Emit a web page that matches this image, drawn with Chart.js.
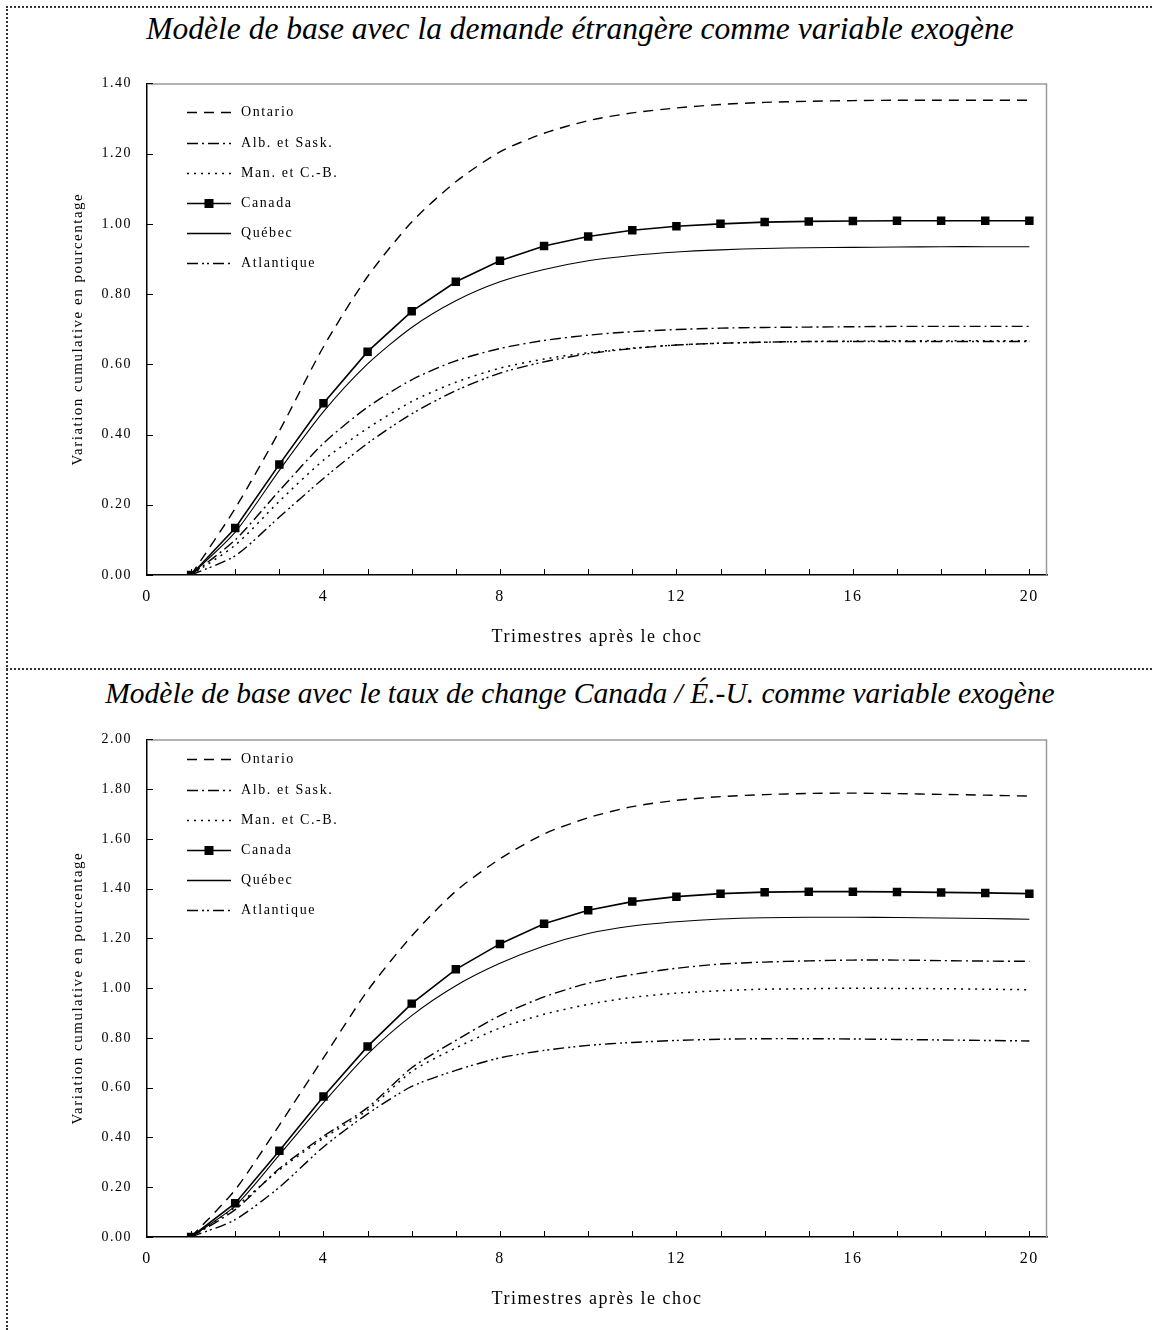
<!DOCTYPE html>
<html lang="fr">
<head>
<meta charset="utf-8">
<script src="https://cdn.jsdelivr.net/npm/chart.js@4.4.1/dist/chart.umd.min.js"></script>
<style>
  html, body { margin: 0; padding: 0; background: #fff; }
  #page { position: relative; width: 1152px; height: 1330px; overflow: hidden; }
  .frame-top { position: absolute; left: 6px; top: 6px; right: 0; border-top: 2px dotted #333; }
  .frame-left { position: absolute; left: 6px; top: 6px; bottom: 0; border-left: 2px dotted #333; }
  .frame-mid { position: absolute; left: 6px; top: 668px; right: 0; border-top: 2px dotted #333; }
  .title {
    position: absolute; left: 8px; right: 0; text-align: center;
    font-family: "Liberation Serif", "Times New Roman", serif;
    font-style: italic; color: #000; white-space: nowrap;
  }
  .box { position: absolute; left: 0; width: 1152px; }
</style>
</head>
<body>
<div id="page">
  <div class="frame-top"></div>
  <div class="frame-left"></div>
  <div class="frame-mid"></div>
  <div class="title" style="top: 11px; font-size: 31.5px;">Modèle de base avec la demande étrangère comme variable exogène</div>
  <div class="box" style="top: 60px; height: 600px;"><canvas id="chartTop"></canvas></div>
  <div class="title" style="top: 677px; font-size: 29.5px;">Modèle de base avec le taux de change Canada / É.-U. comme variable exogène</div>
  <div class="box" style="top: 716px; height: 606px;"><canvas id="chartBottom"></canvas></div>
</div>
<script>
  const quarters = [1, 2, 3, 4, 5, 6, 7, 8, 9, 10, 11, 12, 13, 14, 15, 16, 17, 18, 19, 20];
  const seriesNames = ["Ontario", "Alb. et Sask.", "Man. et C.-B.", "Canada", "Québec", "Atlantique"];

  // Modèle avec la demande étrangère
  const ontarioTop = [0, 0.19, 0.41, 0.65, 0.85, 1.005, 1.12, 1.205, 1.258, 1.294, 1.316, 1.330, 1.340, 1.346, 1.349, 1.351, 1.352, 1.352, 1.352, 1.352];
  const albSaskTop = [0, 0.10, 0.24, 0.375, 0.478, 0.556, 0.61, 0.645, 0.668, 0.683, 0.693, 0.699, 0.703, 0.705, 0.706, 0.707, 0.708, 0.708, 0.708, 0.708];
  const manCBTop = [0, 0.085, 0.21, 0.327, 0.418, 0.494, 0.549, 0.589, 0.615, 0.633, 0.646, 0.655, 0.660, 0.663, 0.665, 0.666, 0.667, 0.667, 0.667, 0.667];
  const canadaTop = [0, 0.134, 0.315, 0.489, 0.636, 0.751, 0.835, 0.895, 0.937, 0.964, 0.982, 0.993, 1.000, 1.005, 1.007, 1.008, 1.009, 1.009, 1.009, 1.009];
  const quebecTop = [0, 0.122, 0.298, 0.465, 0.601, 0.705, 0.781, 0.835, 0.870, 0.895, 0.910, 0.920, 0.926, 0.930, 0.932, 0.933, 0.934, 0.935, 0.935, 0.935];
  const atlantiqueTop = [0, 0.055, 0.165, 0.275, 0.375, 0.459, 0.525, 0.575, 0.607, 0.630, 0.645, 0.655, 0.660, 0.663, 0.665, 0.665, 0.665, 0.665, 0.665, 0.665];

  // Modèle avec le taux de change Canada / É.-U.
  const ontarioBottom = [0, 0.19, 0.45, 0.72, 0.99, 1.21, 1.39, 1.52, 1.62, 1.685, 1.73, 1.755, 1.77, 1.778, 1.783, 1.784, 1.782, 1.779, 1.776, 1.772];
  const albSaskBottom = [0, 0.11, 0.275, 0.405, 0.52, 0.68, 0.79, 0.89, 0.965, 1.02, 1.055, 1.08, 1.097, 1.105, 1.11, 1.113, 1.113, 1.111, 1.109, 1.108];
  const manCBBottom = [0, 0.12, 0.27, 0.397, 0.51, 0.665, 0.76, 0.84, 0.895, 0.935, 0.963, 0.98, 0.99, 0.996, 0.998, 1.0, 0.999, 0.998, 0.996, 0.994];
  const canadaBottom = [0, 0.136, 0.347, 0.565, 0.766, 0.938, 1.076, 1.178, 1.259, 1.313, 1.348, 1.368, 1.380, 1.386, 1.388, 1.388, 1.387, 1.385, 1.383, 1.380];
  const quebecBottom = [0, 0.125, 0.33, 0.54, 0.735, 0.89, 1.01, 1.10, 1.17, 1.22, 1.25, 1.267, 1.278, 1.283, 1.285, 1.285, 1.284, 1.282, 1.28, 1.277];
  const atlantiqueBottom = [0, 0.07, 0.20, 0.362, 0.495, 0.605, 0.67, 0.72, 0.75, 0.77, 0.782, 0.79, 0.795, 0.797, 0.797, 0.796, 0.794, 0.792, 0.79, 0.788];

  const xLabelTicks = [0, 4, 8, 12, 16, 20];
  const yMaxTop = 1.4;
  const yMaxBottom = 2.0;

  const serif = "'Liberation Serif', 'Times New Roman', serif";

  const lineStyles = [
    { dash: [10, 7], width: 1.4, point: false },
    { dash: [11, 4, 2, 4], width: 1.4, point: false },
    { dash: [2, 5], width: 1.5, point: false },
    { dash: [], width: 1.6, point: true },
    { dash: [], width: 1.1, point: false },
    { dash: [11, 4, 2, 3, 2, 4], width: 1.4, point: false }
  ];

  function makeDatasets(values) {
    return values.map(function (arr, i) {
      const st = lineStyles[i];
      return {
        label: seriesNames[i],
        data: quarters.map(function (q, k) { return { x: q, y: arr[k] }; }),
        borderColor: "#000",
        backgroundColor: "#000",
        borderWidth: st.width,
        borderDash: st.dash,
        tension: st.point ? 0 : 0.25,
        pointRadius: st.point ? 6 : 0,
        pointStyle: "rect",
        pointBorderWidth: 0,
        fill: false
      };
    });
  }

  // cadre gris, petites graduations intérieures et légende dans la zone du graphique
  const decorPlugin = {
    id: "decor",
    beforeDraw: function (chart) {
      chart.ctx.letterSpacing = "1.5px";
    },
    afterDraw: function (chart) {
      const ctx = chart.ctx;
      const a = chart.chartArea;
      const xs = chart.scales.x;
      const ys = chart.scales.y;
      ctx.save();
      ctx.letterSpacing = "0px";
      ctx.strokeStyle = "#9a9a9a";
      ctx.lineWidth = 1.5;
      ctx.beginPath();
      ctx.moveTo(a.left, a.top + 0.5);
      ctx.lineTo(a.right - 0.5, a.top + 0.5);
      ctx.lineTo(a.right - 0.5, a.bottom);
      ctx.stroke();

      ctx.strokeStyle = "#000";
      ctx.lineWidth = 1;
      ctx.beginPath();
      xs.ticks.forEach(function (t) {
        if (t.value <= 0) return;
        const px = Math.round(xs.getPixelForValue(t.value)) + 0.5;
        ctx.moveTo(px, a.bottom);
        ctx.lineTo(px, a.bottom - 6);
      });
      ys.ticks.forEach(function (t) {
        const py = Math.round(ys.getPixelForValue(t.value)) + 0.5;
        ctx.moveTo(a.left, py);
        ctx.lineTo(a.left + 6, py);
      });
      ctx.stroke();

      const lg = chart.options.plugins.decor;
      ctx.font = "14px " + serif;
      ctx.letterSpacing = "1.6px";
      ctx.fillStyle = "#000";
      ctx.textBaseline = "middle";
      chart.data.datasets.forEach(function (ds, i) {
        const y = Math.round(a.top + lg.firstRow + i * lg.rowGap) + 0.5;
        const x0 = a.left + 40;
        const x1 = a.left + 84;
        ctx.strokeStyle = "#000";
        ctx.lineWidth = Math.max(ds.borderWidth, 1.5);
        ctx.setLineDash(ds.borderDash);
        ctx.beginPath();
        ctx.moveTo(x0, y);
        ctx.lineTo(x1, y);
        ctx.stroke();
        ctx.setLineDash([]);
        if (ds.pointRadius > 0) {
          ctx.fillRect((x0 + x1) / 2 - 4.5, y - 4.5, 9, 9);
        }
        ctx.fillText(ds.label, a.left + 94, y);
      });
      ctx.restore();
    }
  };

  function makeChart(id, values, yMax, firstRow) {
    return new Chart(document.getElementById(id), {
      type: "line",
      data: { datasets: makeDatasets(values) },
      plugins: [decorPlugin],
      options: {
        responsive: true,
        maintainAspectRatio: false,
        animation: false,
        events: [],
        layout: { padding: { top: 22, right: 105, left: 0, bottom: 0 } },
        plugins: {
          legend: { display: false },
          tooltip: { enabled: false },
          decor: { firstRow: firstRow, rowGap: 30.2 }
        },
        scales: {
          x: {
            type: "linear",
            min: 0,
            max: 20.4,
            afterFit: function (scale) { scale.height = 85; },
            afterBuildTicks: function (scale) {
              scale.ticks = quarters.map(function (q) { return { value: q }; });
              scale.ticks.unshift({ value: 0 });
            },
            ticks: {
              autoSkip: false,
              maxRotation: 0,
              padding: 12,
              color: "#000",
              font: { family: serif, size: 16 },
              callback: function (v) { return xLabelTicks.indexOf(v) >= 0 ? String(v) : ""; }
            },
            grid: { display: false, drawTicks: false },
            border: { display: true, color: "#000", width: 1.5 },
            title: {
              display: true,
              text: "Trimestres après le choc",
              color: "#000",
              font: { family: serif, size: 18 },
              padding: { top: 0, bottom: 12 }
            }
          },
          y: {
            min: 0,
            max: yMax,
            afterFit: function (scale) { scale.width = 147; },
            ticks: {
              stepSize: 0.2,
              padding: 15,
              color: "#000",
              font: { family: serif, size: 14 },
              callback: function (v) { return Number(v).toFixed(2); }
            },
            grid: { display: false, drawTicks: false },
            border: { display: true, color: "#000", width: 1.5 },
            title: {
              display: true,
              text: "Variation cumulative en pourcentage",
              color: "#000",
              font: { family: serif, size: 15 },
              padding: { top: 69, bottom: 0 }
            }
          }
        }
      }
    });
  }

  makeChart("chartTop", [ontarioTop, albSaskTop, manCBTop, canadaTop, quebecTop, atlantiqueTop], yMaxTop, 29);
  makeChart("chartBottom", [ontarioBottom, albSaskBottom, manCBBottom, canadaBottom, quebecBottom, atlantiqueBottom], yMaxBottom, 20);
</script>
</body>
</html>
